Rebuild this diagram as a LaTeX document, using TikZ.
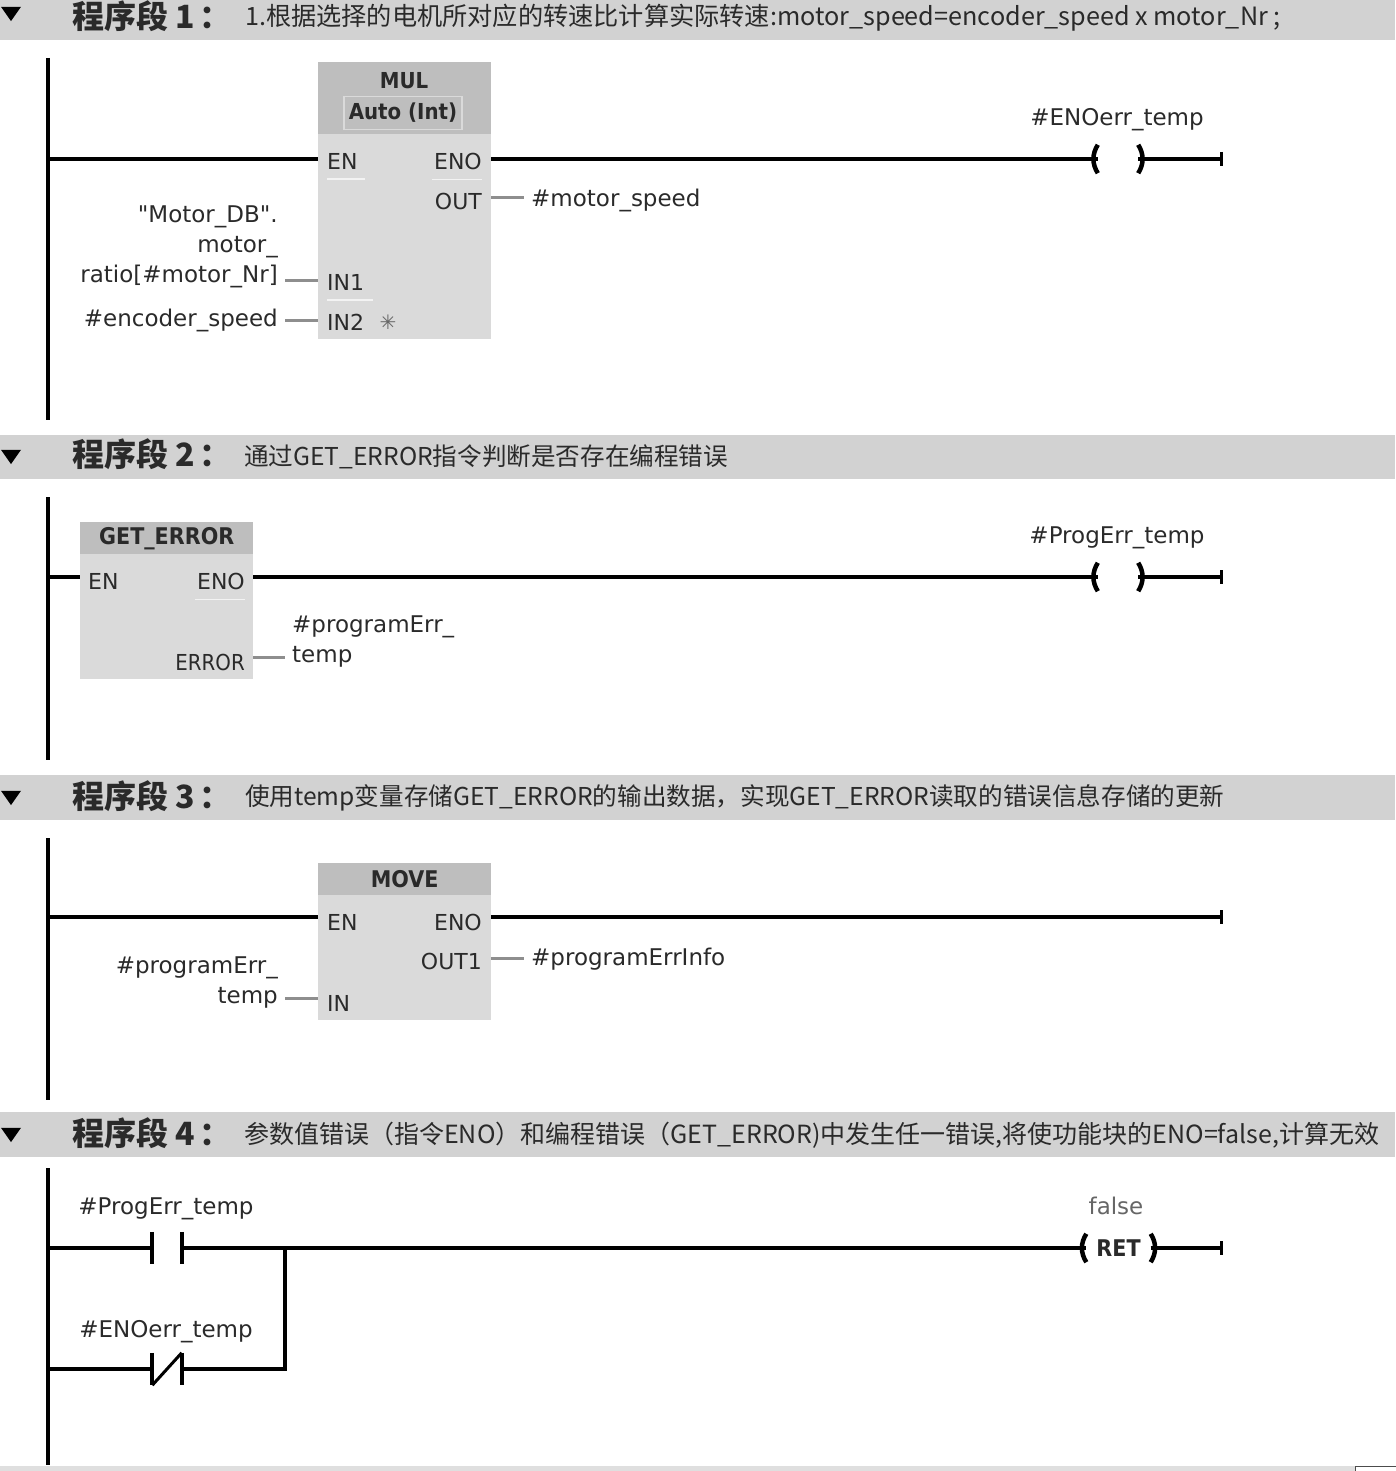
\documentclass[tikz,border=0pt]{standalone}
\usepackage{fontspec}
\setmainfont{DejaVu Sans}
\newfontfamily\cjk{Noto Sans CJK SC}
\newfontfamily\narrowfont{DejaVu Sans Condensed}
\newfontfamily\quotefont{DejaVu Sans}
\usetikzlibrary{shapes.geometric,positioning,calc}
\definecolor{barfill}{HTML}{D2D2D2}
\definecolor{blockbody}{HTML}{DADADA}
\definecolor{blockhead}{HTML}{BEBEBE}
\definecolor{stubgrey}{HTML}{8E8E8E}
\definecolor{labelink}{HTML}{2A2A2A}

\begin{document}
\begin{tikzpicture}[
  x=1pt, y=-1pt,
  every node/.style={inner sep=0pt, text=labelink},
  bar/.style={rectangle, fill=barfill, minimum width=1395pt, anchor=north west},
  fold/.style={isosceles triangle, isosceles triangle apex angle=70, shape border rotate=-90, fill=black, minimum width=20pt, minimum height=9pt},
  segtitle/.style={anchor=west, font=\cjk\bfseries\fontsize{32}{36}\selectfont},
  segnote/.style={anchor=west, font=\cjk\fontsize{#1}{30}\selectfont},
  rail/.style={line width=4pt, black},
  wire/.style={line width=4pt, black},
  stub/.style={line width=3pt, stubgrey},
  tick/.style={line width=3pt, black},
  block/.style={rectangle, fill=blockbody, minimum width=173pt, anchor=north west},
  blockhd/.style={rectangle, fill=blockhead, minimum width=173pt, anchor=north west, font=\narrowfont\bfseries\fontsize{23}{26}\selectfont},
  port/.style={font=\fontsize{22}{26}\selectfont},
  portl/.style={port, anchor=west},
  portr/.style={port, anchor=east},
  operand/.style={yshift=-2.5pt, font=\fontsize{23}{30}\selectfont},
  pinline/.style={line width=1.5pt, white, opacity=.7},
  coil/.style={rectangle, minimum width=40pt, minimum height=28pt, append after command={
    (\tikzlastnode.north west) edge[line width=4.5pt, black, bend right=32] (\tikzlastnode.south west)
    (\tikzlastnode.north east) edge[line width=4.5pt, black, bend left=32] (\tikzlastnode.south east)}},
  contact/.style={rectangle, minimum width=29pt, minimum height=32pt, append after command={
    (\tikzlastnode.north west) edge[line width=4pt, black] (\tikzlastnode.south west)
    (\tikzlastnode.north east) edge[line width=4pt, black] (\tikzlastnode.south east)}}
]
\useasboundingbox (0,0) rectangle (1395,1471);

% Header bars
\node[bar, minimum height=40pt] (bar1) at (0,0) {};
\node[bar, minimum height=44pt] (bar2) at (0,435) {};
\node[bar, minimum height=45pt] (bar3) at (0,775) {};
\node[bar, minimum height=45pt] (bar4) at (0,1112) {};
\node[bar, minimum height=5pt, fill=barfill!70] (bar5) at (0,1466) {};
\node[rectangle, draw=black!70, fill=white, minimum width=41pt, minimum height=6pt, anchor=north west] (corner) at (1355,1466) {};

\node[fold] (fold1) at (11,12) {};
\node[fold] (fold2) at (11,455) {};
\node[fold] (fold3) at (11,796) {};
\node[fold] (fold4) at (11,1133) {};

\node[segtitle] (title1) at (72,16) {程序段 1\hspace{4pt}：};
\node[segtitle] (title2) at (72,454) {程序段 2\hspace{4pt}：};
\node[segtitle] (title3) at (72,796) {程序段 3\hspace{4pt}：};
\node[segtitle] (title4) at (72,1133) {程序段 4\hspace{4pt}：};

\node[segnote=25.2] (note1) at (245,18) {1.根据选择的电机所对应的转速比计算实际转速:motor\_speed=encoder\_speed x motor\_Nr ;};
\node[segnote=24.6] (note2) at (244,457) {通过GET\_ERROR指令判断是否存在编程错误};
\node[segnote=24.6] (note3) at (245,798) {使用temp变量存储GET\_ERROR的输出数据，实现GET\_ERROR读取的错误信息存储的更新};
\node[segnote=25] (note4) at (244,1135) {参数值错误（指令ENO）和编程错误（GET\_ERROR)中发生任一错误,将使功能块的ENO=false,计算无效};

% Rails
\coordinate (rail1top) at (48,58);
\coordinate (rail1bot) at (48,420);
\coordinate (rail2top) at (48,497);
\coordinate (rail2bot) at (48,760);
\coordinate (rail3top) at (48,838);
\coordinate (rail3bot) at (48,1100);
\coordinate (rail4top) at (48,1168);
\coordinate (rail4bot) at (48,1465);
\draw[rail] (rail1top) -- (rail1bot);
\draw[rail] (rail2top) -- (rail2bot);
\draw[rail] (rail3top) -- (rail3bot);
\draw[rail] (rail4top) -- (rail4bot);

% Network 1: MUL
\node[block, minimum height=205pt] (mul) at (318,134) {};
\node[blockhd, minimum height=72pt] (mulhd) at (318,62) {};
\node[font=\narrowfont\bfseries\fontsize{22}{26}\selectfont] (mulname) at (404,81) {MUL};
\node[draw=blockbody, line width=1.5pt, minimum width=118pt, minimum height=33pt, font=\narrowfont\bfseries\fontsize{22}{26}\selectfont] (multype) at (403,113) {Auto (Int)};
\node[portl] (mulen) at (327,161) {EN};
\node[portr] (muleno) at (482,161) {ENO};
\node[portr] (mulout) at (482,201) {OUT};
\node[portl] (mulina) at (327,282) {IN1};
\node[portl] (mulinb) at (327,322) {IN2};
\node[font=\fontsize{20}{22}\selectfont, text=black!60, right=15pt of mulinb] (mulstar) {✳};
\draw[pinline] (mulen.south west)+(0,10) -- +(38,10);
\draw[pinline] (muleno.south east)+(0,10) -- +(-50,10);
\draw[pinline] (mulina.south west)+(0,10) -- +(46,10);

\coordinate (wire1a) at (48,159);
\coordinate (mulenpin) at (318,159);
\coordinate (mulenopin) at (491,159);
\node[coil] (coil1) at (1118,159) {};
\coordinate (end1) at (1221,159);
\draw[wire] (wire1a) -- (mulenpin);
\draw[wire] (mulenopin) -- (coil1.west);
\draw[wire] (coil1.east) -- (end1);
\draw[tick] (end1)+(0,-7) -- +(0,7);
\node[operand] (coil1lbl) at (1117,117) {\#ENOerr\_temp};

\node[operand, anchor=west] (motorspeed) at (531,198) {\#motor\_speed};
\node[operand, align=right, anchor=east] (ratio) at (278,244) {{\quotefont"}Motor\_DB{\quotefont"}.\\motor\_\\ratio[\#motor\_Nr]};
\node[operand, anchor=east] (encoder) at (278,318) {\#encoder\_speed};
\coordinate (muloutpin) at (491,198);
\coordinate (muloutend) at (524,198);
\coordinate (mulinapin) at (318,280);
\coordinate (mulinaend) at (285,280);
\coordinate (mulinbpin) at (318,320);
\coordinate (mulinbend) at (285,320);
\draw[stub] (muloutpin) -- (muloutend);
\draw[stub] (mulinaend) -- (mulinapin);
\draw[stub] (mulinbend) -- (mulinbpin);

% Network 2: GET_ERROR
\node[block, minimum height=125pt] (err) at (80,554) {};
\node[blockhd, minimum height=32pt] (errhd) at (80,522) {GET\_ERROR};
\node[portl] (erren) at (88,581) {EN};
\node[portr] (erreno) at (245,581) {ENO};
\node[portr, font=\narrowfont\fontsize{22}{26}\selectfont] (errout) at (245,662) {ERROR};
\draw[pinline] (erreno.south east)+(0,10) -- +(-50,10);

\coordinate (wire2a) at (48,577);
\coordinate (errenpin) at (80,577);
\coordinate (errenopin) at (253,577);
\node[coil] (coil2) at (1118,577) {};
\coordinate (end2) at (1221,577);
\draw[wire] (wire2a) -- (errenpin);
\draw[wire] (errenopin) -- (coil2.west);
\draw[wire] (coil2.east) -- (end2);
\draw[tick] (end2)+(0,-7) -- +(0,7);
\node[operand] (coil2lbl) at (1117,535) {\#ProgErr\_temp};

\node[operand, align=left, anchor=west] (progerr) at (292,639) {\#programErr\_\\temp};
\coordinate (erroutpin) at (253,657);
\coordinate (erroutend) at (285,657);
\draw[stub] (erroutpin) -- (erroutend);

% Network 3: MOVE
\node[block, minimum height=125pt] (move) at (318,895) {};
\node[blockhd, minimum height=32pt] (movehd) at (318,863) {MOVE};
\node[portl] (moveen) at (327,922) {EN};
\node[portr] (moveeno) at (482,922) {ENO};
\node[portr] (moveout) at (482,961) {OUT1};
\node[portl] (movein) at (327,1003) {IN};

\coordinate (wire3a) at (48,917);
\coordinate (moveenpin) at (318,917);
\coordinate (moveenopin) at (491,917);
\coordinate (end3) at (1221,917);
\draw[wire] (wire3a) -- (moveenpin);
\draw[wire] (moveenopin) -- (end3);
\draw[tick] (end3)+(0,-7) -- +(0,7);

\node[operand, anchor=west] (errinfo) at (531,957) {\#programErrInfo};
\node[operand, align=right, anchor=east] (progerrin) at (278,980) {\#programErr\_\\temp};
\coordinate (moveoutpin) at (491,958);
\coordinate (moveoutend) at (524,958);
\coordinate (moveinpin) at (318,998);
\coordinate (moveinend) at (285,998);
\draw[stub] (moveoutpin) -- (moveoutend);
\draw[stub] (moveinend) -- (moveinpin);

% Network 4: contacts and RET
\node[contact] (no) at (167,1248) {};
\node[contact] (nc) at (167,1369) {};
\draw[line width=3pt, black] (nc.south west) -- (nc.north east);
\node[operand] (nolbl) at (166,1206) {\#ProgErr\_temp};
\node[operand] (nclbl) at (166,1329) {\#ENOerr\_temp};

\coordinate (wire4a) at (48,1248);
\coordinate (wire4b) at (48,1369);
\coordinate (join) at (285,1248);
\coordinate (joinb) at (285,1369);
\node[coil, minimum width=64pt, font=\narrowfont\bfseries\fontsize{23}{26}\selectfont] (ret) at (1118.5,1248) {RET};
\coordinate (end4) at (1221,1248);
\draw[wire] (wire4a) -- (no.west);
\draw[wire] (no.east) -- (ret.west);
\draw[wire] (ret.east) -- (end4);
\draw[tick] (end4)+(0,-7) -- +(0,7);
\draw[wire] (wire4b) -- (nc.west);
\draw[wire] (nc.east) -- (joinb) -- (join);
\node[operand, text=black!60] (retlbl) at (1116,1203) {false};

\end{tikzpicture}
\end{document}
